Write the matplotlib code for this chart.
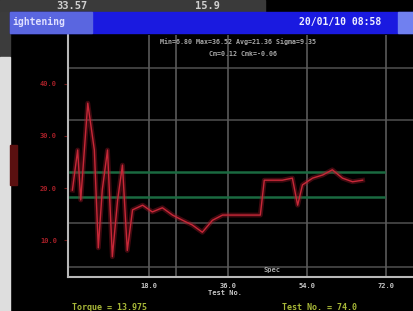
import matplotlib
matplotlib.use("Agg")
import matplotlib.pyplot as plt
from matplotlib.patches import Rectangle

# torque trace
test_no = [0.5, 1.7, 2.4, 4.0, 5.5, 6.4, 7.3, 8.5, 9.6, 10.8, 11.9, 13.0, 14.2,
           16.5, 18.7, 21.0, 23.3, 25.6, 27.8, 30.1, 32.4, 34.7, 39.2, 43.3,
           44.2, 48.3, 50.6, 51.8, 52.9, 55.2, 57.5, 59.7, 62.0, 64.3, 66.6]
torque = [19.6, 27.3, 17.7, 36.3, 27.3, 8.5, 19.6, 27.3, 6.8, 17.7, 24.4, 8.0, 15.8,
          16.7, 15.4, 16.2, 14.8, 13.8, 12.9, 11.5, 13.8, 14.8, 14.8, 14.8,
          21.5, 21.5, 21.9, 16.7, 20.6, 21.9, 22.5, 23.5, 21.9, 21.2, 21.5]

y_ticks = [10, 20, 30, 40]
x_ticks = [18, 36, 54, 72]
grid_y = [4.8, 13.3, 33.1, 43.1]
grid_x = [18, 24, 36, 54, 72]
limits = [18.3, 23.1]

W, H = 414, 311
fig = plt.figure(figsize=(W / 100, H / 100), dpi=100)
fig.patch.set_facecolor("black")


def px(x, y):
    return x / W, 1 - y / H


def box(x0, y0, x1, y1, color):
    fig.patches.append(Rectangle((x0 / W, 1 - y1 / H), (x1 - x0) / W, (y1 - y0) / H,
                                 transform=fig.transFigure, color=color, zorder=0))


# surroundings of the photographed screen
box(0, 0, 265, 12, "#3a3a3a")
box(0, 12, 10, 57, "#3c3c3c")
box(0, 57, 10, 311, "#dedede")
box(10, 12, 414, 33, "#1a1ae0")
box(10, 12, 92, 33, "#5a66e0")
box(398, 12, 414, 33, "#7080f0")
box(10, 145, 17, 185, "#5a1010")

mono = "DejaVu Sans Mono"
fig.text(*px(72, 1), "33.57", color="#d0d0d0", fontsize=7.5, fontweight="bold",
         family=mono, ha="center", va="top")
fig.text(*px(208, 1), "15.9", color="#d0d0d0", fontsize=7.5, fontweight="bold",
         family=mono, ha="center", va="top")
fig.text(*px(12, 22), "ightening", color="#e0e0ff", fontsize=7, fontweight="bold",
         family=mono, ha="left", va="center")
fig.text(*px(340, 22), "20/01/10 08:58", color="#f0f0ff", fontsize=7, fontweight="bold",
         family=mono, ha="center", va="center")
fig.text(*px(238, 42), "Min=6.80 Max=36.52 Avg=21.36 Sigma=9.35", color="#a8a8a8",
         fontsize=4.8, fontweight="bold", family=mono, ha="center", va="center")
fig.text(*px(243, 54), "Cm=0.12 Cmk=-0.06", color="#a8a8a8",
         fontsize=4.8, fontweight="bold", family=mono, ha="center", va="center")

ax = fig.add_axes([68 / W, (H - 277) / H, (W - 68) / W, (277 - 35) / H])
ax.set_facecolor("black")
ax.set_xlim(-0.5, 78.3)
ax.set_ylim(2.9, 49.4)

for gy in grid_y:
    ax.axhline(gy, color="#4a4a4a", lw=1.2, zorder=1)
for gx in grid_x:
    ax.axvline(gx, color="#5a5a5a", lw=1.2, zorder=1)
for ly in limits:
    ax.plot([0, 71.5], [ly, ly], color="#1a6a40", lw=1.8, zorder=2)

ax.plot(test_no, torque, color="#a01828", lw=3.5, alpha=0.4, zorder=3)
ax.plot(test_no, torque, color="#c82838", lw=1.0, zorder=4)

ax.text(46, 3.6, "Spec", color="#a8a8a8", fontsize=5, fontweight="bold",
        family=mono, ha="center", va="bottom")

for s in ["top", "right"]:
    ax.spines[s].set_visible(False)
for s in ["left", "bottom"]:
    ax.spines[s].set_color("#b8b8b8")
    ax.spines[s].set_linewidth(1.5)

ax.set_yticks(y_ticks)
ax.set_yticklabels([f"{v:.1f}" for v in y_ticks], fontsize=5,
                   fontweight="bold", family=mono)
ax.set_xticks(x_ticks)
ax.set_xticklabels([f"{v:.1f}" for v in x_ticks], fontsize=5,
                   fontweight="bold", family=mono)
ax.tick_params(axis="y", colors="#6a1818", length=3, pad=5, labelcolor="#a82028")
ax.tick_params(axis="x", colors="black", length=2, pad=2, labelcolor="#c8c8c8")

fig.text(*px(225, 293), "Test No.", color="#c8c8c8", fontsize=5, fontweight="bold",
         family=mono, ha="center", va="center")
fig.text(*px(110, 307), "Torque = 13.975", color="#a8b838", fontsize=6,
         fontweight="bold", family=mono, ha="center", va="center")
fig.text(*px(320, 307), "Test No. = 74.0", color="#a8b838", fontsize=6,
         fontweight="bold", family=mono, ha="center", va="center")

fig.savefig("out.png", dpi=100, facecolor=fig.get_facecolor())
